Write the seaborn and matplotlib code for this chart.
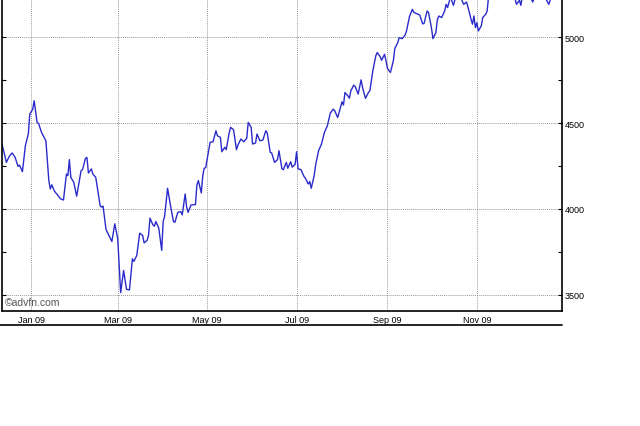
import pandas as pd
import numpy as np
import seaborn as sns
import matplotlib.pyplot as plt
import matplotlib.dates as mdates
from matplotlib.ticker import MultipleLocator
from matplotlib.lines import Line2D

# Daily closes (index level, Dec 2008 - Dec 2009)
dates = [
    '2008-12-12', '2008-12-14', '2008-12-15', '2008-12-17', '2008-12-19', '2008-12-21',
    '2008-12-23', '2008-12-24', '2008-12-26', '2008-12-28', '2008-12-30', '2008-12-31',
    '2009-01-02', '2009-01-03', '2009-01-05', '2009-01-06', '2009-01-08', '2009-01-11',
    '2009-01-13', '2009-01-14', '2009-01-15', '2009-01-17', '2009-01-19', '2009-01-21',
    '2009-01-23', '2009-01-25', '2009-01-26', '2009-01-27', '2009-01-28', '2009-01-30',
    '2009-02-01', '2009-02-04', '2009-02-05', '2009-02-07', '2009-02-08', '2009-02-09',
    '2009-02-11', '2009-02-12', '2009-02-14', '2009-02-17', '2009-02-18', '2009-02-19',
    '2009-02-21', '2009-02-23', '2009-02-25', '2009-02-27',
    '2009-03-01', '2009-03-03', '2009-03-05', '2009-03-07', '2009-03-09', '2009-03-11',
    '2009-03-12', '2009-03-14', '2009-03-16', '2009-03-18', '2009-03-19', '2009-03-21',
    '2009-03-22', '2009-03-23', '2009-03-25', '2009-03-26', '2009-03-27', '2009-03-29',
    '2009-03-31',
    '2009-04-01', '2009-04-02', '2009-04-04', '2009-04-06', '2009-04-08', '2009-04-09',
    '2009-04-11', '2009-04-13', '2009-04-14', '2009-04-16', '2009-04-17', '2009-04-18',
    '2009-04-20', '2009-04-23', '2009-04-24', '2009-04-25', '2009-04-27', '2009-04-28',
    '2009-04-29', '2009-04-30',
    '2009-05-02', '2009-05-03', '2009-05-05', '2009-05-07', '2009-05-08', '2009-05-10',
    '2009-05-11', '2009-05-13', '2009-05-14', '2009-05-16', '2009-05-17', '2009-05-19',
    '2009-05-21', '2009-05-22', '2009-05-24', '2009-05-26', '2009-05-28', '2009-05-29',
    '2009-05-31',
    '2009-06-01', '2009-06-03', '2009-06-04', '2009-06-06', '2009-06-08', '2009-06-10',
    '2009-06-11', '2009-06-13', '2009-06-14', '2009-06-16', '2009-06-18', '2009-06-19',
    '2009-06-21', '2009-06-22', '2009-06-24', '2009-06-25', '2009-06-27', '2009-06-28',
    '2009-06-30',
    '2009-07-01', '2009-07-02', '2009-07-04', '2009-07-06', '2009-07-07', '2009-07-09',
    '2009-07-10', '2009-07-11', '2009-07-13', '2009-07-14', '2009-07-16', '2009-07-18',
    '2009-07-20', '2009-07-22', '2009-07-24', '2009-07-26', '2009-07-27', '2009-07-29',
    '2009-07-30',
    '2009-08-01', '2009-08-02', '2009-08-03', '2009-08-05', '2009-08-06', '2009-08-07',
    '2009-08-09', '2009-08-10', '2009-08-12', '2009-08-14', '2009-08-15', '2009-08-17',
    '2009-08-19', '2009-08-20', '2009-08-22', '2009-08-24', '2009-08-25', '2009-08-27',
    '2009-08-28', '2009-08-30', '2009-08-31',
    '2009-09-01', '2009-09-03', '2009-09-05', '2009-09-06', '2009-09-08', '2009-09-09',
    '2009-09-11', '2009-09-13', '2009-09-14', '2009-09-16', '2009-09-18', '2009-09-19',
    '2009-09-22', '2009-09-23', '2009-09-25', '2009-09-26', '2009-09-28', '2009-09-29',
    '2009-10-01', '2009-10-02', '2009-10-04', '2009-10-05', '2009-10-06', '2009-10-08',
    '2009-10-09', '2009-10-10', '2009-10-11', '2009-10-12', '2009-10-14', '2009-10-15',
    '2009-10-16', '2009-10-18', '2009-10-19', '2009-10-21', '2009-10-22', '2009-10-23',
    '2009-10-25', '2009-10-26', '2009-10-28', '2009-10-29', '2009-10-30', '2009-10-31',
    '2009-11-01', '2009-11-02', '2009-11-04', '2009-11-05', '2009-11-07', '2009-11-08',
    '2009-11-09', '2009-11-11', '2009-11-13', '2009-11-15', '2009-11-17', '2009-11-19',
    '2009-11-21', '2009-11-23', '2009-11-25', '2009-11-27', '2009-11-28', '2009-11-30',
    '2009-12-01', '2009-12-02', '2009-12-04', '2009-12-06', '2009-12-08', '2009-12-09',
    '2009-12-10', '2009-12-12', '2009-12-14', '2009-12-17', '2009-12-18', '2009-12-20',
    '2009-12-21',
]

closes = [
    4378, 4310, 4271, 4306, 4326, 4300, 4248, 4255, 4217, 4368, 4436, 4552,
    4581, 4630, 4504, 4498, 4446, 4397, 4165, 4116, 4140, 4101, 4081, 4058,
    4052, 4203, 4194, 4287, 4184, 4155,
    4074, 4223, 4229, 4295, 4300, 4209, 4233, 4203, 4184, 4019, 4010, 4016,
    3880, 3845, 3810, 3913,
    3826, 3512, 3641, 3531, 3528, 3709, 3694, 3729, 3859, 3845, 3802, 3816,
    3845, 3946, 3907, 3899, 3926, 3888, 3758,
    3926, 3958, 4120, 4019, 3926, 3922, 3980, 3984, 3965, 4087, 4010, 3980,
    4023, 4025, 4140, 4165, 4093, 4194, 4237, 4240,
    4339, 4388, 4391, 4455, 4426, 4417, 4333, 4359, 4345, 4442, 4475, 4461,
    4345, 4372, 4407, 4391, 4411, 4504, 4475,
    4378, 4384, 4436, 4397, 4401, 4455, 4442, 4330, 4326, 4271, 4287, 4339,
    4233, 4229, 4271, 4237, 4275, 4243, 4260,
    4333, 4233, 4229, 4190, 4179, 4145, 4159, 4120, 4194, 4256, 4339, 4378,
    4446, 4484, 4558, 4581, 4572, 4533, 4562,
    4624, 4605, 4678, 4659, 4645, 4688, 4721, 4713, 4669, 4752, 4708, 4644,
    4678, 4688, 4804, 4891, 4911, 4888, 4866, 4901, 4862,
    4818, 4795, 4862, 4934, 4969, 4998, 4992, 5012, 5037, 5120, 5163, 5145,
    5134, 5130, 5078, 5081, 5153, 5145,
    5055, 4992, 5027, 5101, 5124, 5115, 5134, 5153, 5192, 5173, 5235, 5211,
    5186, 5250, 5280, 5240, 5211, 5192, 5205, 5173, 5105, 5076, 5124, 5056,
    5085, 5037, 5066, 5115, 5134, 5153, 5240, 5290, 5320, 5280, 5340, 5300,
    5350, 5310, 5260, 5225, 5192, 5215,
    5186, 5240, 5300, 5270, 5230, 5205, 5225, 5290, 5320, 5270, 5225, 5192,
    5215,
]

y_ticks = [3500, 4000, 4500, 5000]
tick_months = [1, 3, 5, 7, 9, 11]

df = pd.DataFrame({'date': pd.to_datetime(dates), 'close': closes})

sns.set_style('white')
plt.rcParams['font.family'] = ['Liberation Sans', 'DejaVu Sans']

fig = plt.figure(figsize=(6.4, 4.27), dpi=100)
ax = fig.add_axes([0.003, 1 - 312 / 427, 0.875, 312 / 427])

sns.lineplot(data=df, x='date', y='close', ax=ax, color='#2b2bcc', linewidth=1.0)

ax.set_xlim(pd.Timestamp('2008-12-12'), pd.Timestamp('2009-12-29'))
ax.set_ylim(3405, 5223)
ax.set_xlabel('')
ax.set_ylabel('')

# x axis: every other month
ax.xaxis.set_major_locator(mdates.MonthLocator(bymonth=tick_months))
ax.xaxis.set_major_formatter(mdates.DateFormatter('%b %y'))
ax.tick_params(axis='x', length=0, pad=3, labelsize=6.5, colors='black')

# y axis labels on the right
ax.yaxis.tick_right()
ax.set_yticks(y_ticks)
ax.yaxis.set_minor_locator(MultipleLocator(250))
ax.tick_params(axis='y', which='both', left=True, right=True, labelleft=False,
               direction='in', length=3, width=0.8, pad=2, labelsize=6.5, colors='black')

ax.grid(True, which='major', color='#9a9a9a', linestyle=(0, (1, 1)), linewidth=0.7)

for side in ['left', 'right', 'bottom']:
    ax.spines[side].set_color('black')
    ax.spines[side].set_linewidth(1.2)
ax.spines['top'].set_visible(False)

# rule under the date labels
fig.add_artist(Line2D([0, 562 / 640], [1 - 326 / 427] * 2, transform=fig.transFigure,
                      color='black', linewidth=1.2))

fig.text(5 / 640, 1 - 303.5 / 427, '©advfn.com', va='center', ha='left',
         fontsize=7.5, color='#555555')

fig.savefig('out.png', dpi=100)
plt.close()
